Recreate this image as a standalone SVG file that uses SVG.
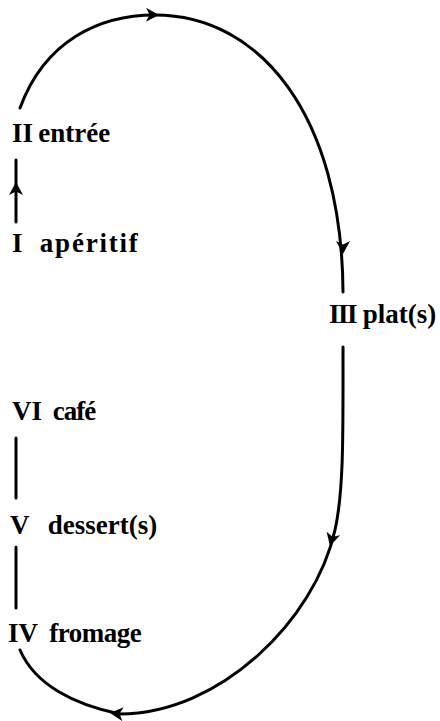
<svg xmlns="http://www.w3.org/2000/svg" xmlns:xlink="http://www.w3.org/1999/xlink" width="440" height="721" viewBox="0 0 440 721">
<style>
.lbl{font-family:"Liberation Serif","Times New Roman",serif;font-size:27px;font-weight:700;fill:#000}
.ln{fill:none;stroke:#000;stroke-width:3;stroke-linecap:round}
.ah{fill:#000}
</style>
<defs>
<path id="ah" class="ah" d="M0,0 L-13,-7 L-9.5,0 L-13,7 Z"/>
</defs>
<rect width="440" height="721" fill="#fff"/>
<g id="connectors">
<path class="ln" d="M20,108 C45,40 100,15 155,15 C260,15 342,115 343,292"/>
<path class="ln" d="M343,347 C343,430 344,490 335,530 C315,620 220,714 120,714 C75,705 35,685 20,650"/>
<line class="ln" x1="16" y1="160" x2="16" y2="222"/>
<line class="ln" x1="16" y1="438" x2="16" y2="498"/>
<line class="ln" x1="16" y1="547" x2="16" y2="608"/>
<use xlink:href="#ah" transform="translate(159,15) rotate(1)"/>
<use xlink:href="#ah" transform="translate(343,254) rotate(90)"/>
<use xlink:href="#ah" transform="translate(330,546) rotate(105)"/>
<use xlink:href="#ah" transform="translate(110,713) rotate(185)"/>
<use xlink:href="#ah" transform="translate(16,182) rotate(-90)"/>
</g>
<g id="node-entree"><text class="lbl" x="12" y="142" word-spacing="-1.5">II entrée</text></g>
<g id="node-aperitif"><text class="lbl" x="12" y="252" word-spacing="10.5">I <tspan letter-spacing="1.8">apéritif</tspan></text></g>
<g id="node-plat"><text class="lbl" x="329" y="323"><tspan letter-spacing="-1.5">III</tspan> plat(s)</text></g>
<g id="node-cafe"><text class="lbl" x="12" y="420" word-spacing="4">VI <tspan letter-spacing="-1">café</tspan></text></g>
<g id="node-dessert"><text class="lbl" x="10" y="534" word-spacing="12">V dessert(s)</text></g>
<g id="node-fromage"><text class="lbl" x="8" y="642" word-spacing="5">IV <tspan letter-spacing="-0.5">fromage</tspan></text></g>
</svg>
